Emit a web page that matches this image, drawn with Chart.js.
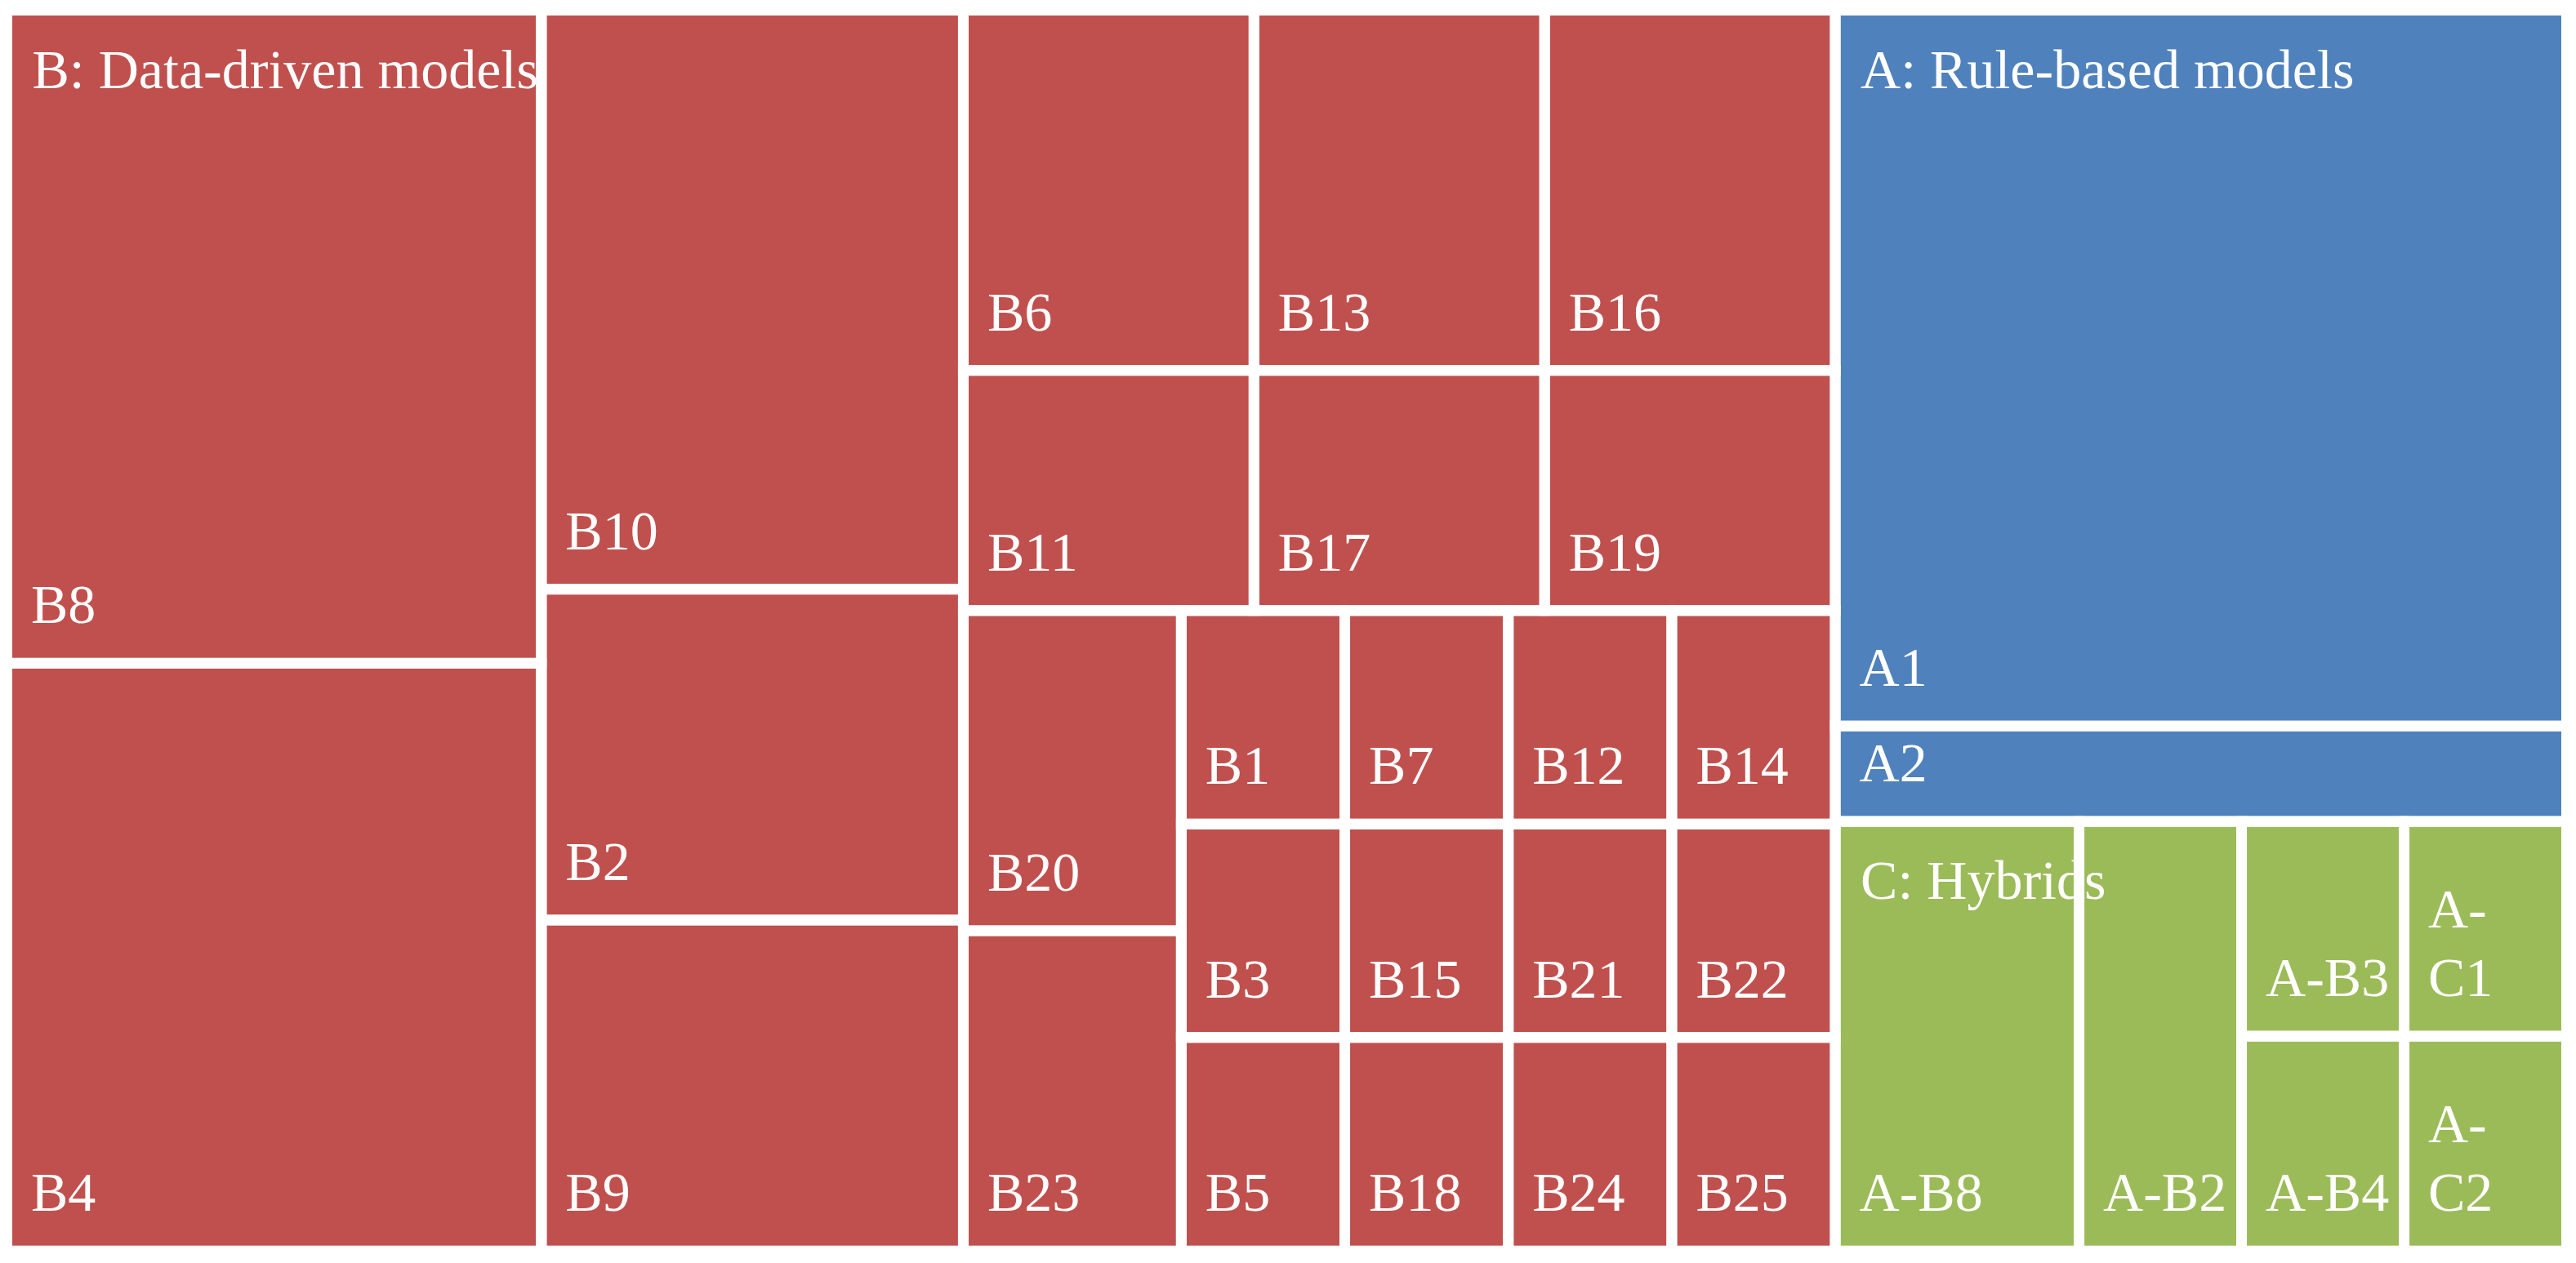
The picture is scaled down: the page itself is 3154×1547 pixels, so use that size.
<!DOCTYPE html>
<html>
<head>
<meta charset="utf-8">
<title>Model treemap</title>
<script src="https://cdn.jsdelivr.net/npm/chart.js@4.4.1/dist/chart.umd.min.js"></script>
<style>
  html, body { margin: 0; padding: 0; background: #fff; }
  canvas { display: block; }
</style>
</head>
<body>
<canvas id="treemapChart" width="3154" height="1547"></canvas>
<script>
// groups (top level of the treemap)
const groupNames = ['A: Rule-based models', 'B: Data-driven models', 'C: Hybrids'];
const groupColors = ['#4F81BD', '#C0504D', '#9BBB59'];

// leaves of each group
const ruleLabels = ['A1', 'A2'];
const ruleValues = [15, 2];

const dataLabels = ['B1', 'B2', 'B3', 'B4', 'B5', 'B6', 'B7', 'B8', 'B9', 'B10',
                    'B11', 'B12', 'B13', 'B14', 'B15', 'B16', 'B17', 'B18', 'B19', 'B20',
                    'B21', 'B22', 'B23', 'B24', 'B25'];
const dataValues = [1, 4, 1, 9, 1, 3, 1, 10, 4, 7,
                    2, 1, 3, 1, 1, 3, 2, 1, 2, 2,
                    1, 1, 2, 1, 1];

const hybridLabels = ['A-B8', 'A-B2', 'A-B3', ['A-', 'C1'], 'A-B4', ['A-', 'C2']];
const hybridValues = [3, 2, 1, 1, 1, 1];

const leafLabels = [...ruleLabels, ...dataLabels, ...hybridLabels];
const leafValues = [...ruleValues, ...dataValues, ...hybridValues];
const leafGroups = [...ruleLabels.map(() => 0), ...dataLabels.map(() => 1), ...hybridLabels.map(() => 2)];

const GAP = 13;
const FONT = '68px "Liberation Serif", "Times New Roman", serif';
const LINE_HEIGHT = 84;

function worstRatio(areas, side) {
    const s = areas.reduce((a, b) => a + b, 0);
    const max = Math.max(...areas), min = Math.min(...areas);
    return Math.max(side * side * max / (s * s), (s * s) / (side * side * min));
}

// squarified layout, rows laid along the shorter side of what is left
function squarify(values, rect) {
    const total = values.reduce((a, b) => a + b, 0);
    const unit = rect.w * rect.h / total;
    const order = values.map((v, i) => i).sort((a, b) => values[b] - values[a] || a - b);
    const out = [];
    let {x, y, w, h} = rect;
    let k = 0;
    while (k < order.length) {
        const side = Math.min(w, h);
        const row = [order[k++]];
        let best = worstRatio(row.map(i => values[i] * unit), side);
        while (k < order.length) {
            const v = values[order[k]];
            if (v * 2 <= values[row[0]]) break; // keep very unequal items apart
            const trial = worstRatio([...row, order[k]].map(i => values[i] * unit), side);
            if (trial > best) break;
            row.push(order[k++]);
            best = trial;
        }
        const rowArea = row.reduce((s, i) => s + values[i] * unit, 0);
        if (w >= h) {
            const t = rowArea / h;
            let yy = y;
            row.forEach(i => {
                const hh = values[i] * unit / t;
                out[i] = {x: x, y: yy, w: t, h: hh};
                yy += hh;
            });
            x += t; w -= t;
        } else {
            const t = rowArea / w;
            let xx = x;
            row.forEach(i => {
                const ww = values[i] * unit / t;
                out[i] = {x: xx, y: y, w: ww, h: t};
                xx += ww;
            });
            y += t; h -= t;
        }
    }
    return out;
}

class CellElement extends Chart.Element {
    static id = 'cell';
    static defaults = {};

    draw(ctx) {
        ctx.fillStyle = this.options.backgroundColor;
        ctx.fillRect(this.x, this.y, this.width, this.height);
    }
    inRange(mx, my) {
        return mx >= this.x && mx <= this.x + this.width && my >= this.y && my <= this.y + this.height;
    }
    getCenterPoint() {
        return {x: this.x + this.width / 2, y: this.y + this.height / 2};
    }
    tooltipPosition() {
        return this.getCenterPoint();
    }
}

class TreemapController extends Chart.DatasetController {
    static id = 'treemap';
    static defaults = { datasetElementType: false, dataElementType: 'cell' };

    update(mode) {
        const meta = this._cachedMeta;
        this.updateElements(meta.data, 0, meta.data.length, mode);
    }

    updateElements(cells, start, count, mode) {
        const ds = this.getDataset();
        const xs = this._cachedMeta.xScale, ys = this._cachedMeta.yScale;
        const W = Math.abs(xs.getPixelForValue(xs.max) - xs.getPixelForValue(xs.min));
        const H = Math.abs(ys.getPixelForValue(ys.max) - ys.getPixelForValue(ys.min));
        if (!(W > 0 && H > 0)) return;
        // layout is done in a box with the pixel aspect, then mapped back to axis values
        const toX = p => xs.min + p / W * (xs.max - xs.min);
        const toY = p => ys.min + p / H * (ys.max - ys.min);
        const toPixels = b => {
            const left = xs.getPixelForValue(toX(b.x));
            const right = xs.getPixelForValue(toX(b.x + b.w));
            const top = ys.getPixelForValue(toY(b.y));
            const bottom = ys.getPixelForValue(toY(b.y + b.h));
            return {x: left, y: top, width: right - left, height: bottom - top};
        };

        const totals = ds.groupNames.map((_, g) =>
            ds.data.reduce((s, v, i) => s + (ds.groups[i] === g ? v : 0), 0));
        const groupBoxes = squarify(totals, {x: 0, y: 0, w: W, h: H});
        const boxes = [];
        groupBoxes.forEach((box, g) => {
            const idx = ds.data.map((v, i) => i).filter(i => ds.groups[i] === g);
            const sub = squarify(idx.map(i => ds.data[i]), box);
            idx.forEach((i, n) => { boxes[i] = sub[n]; });
        });
        this._groupRects = groupBoxes.map(toPixels);

        for (let i = start; i < start + count; i++) {
            Object.assign(cells[i], toPixels(boxes[i]), {
                options: {backgroundColor: ds.groupColors[ds.groups[i]]}
            });
        }
    }

    draw() {
        const ctx = this._ctx;
        const ds = this.getDataset();
        const cells = this._cachedMeta.data;
        cells.forEach(c => c.draw(ctx));

        ctx.save();
        ctx.fillStyle = '#ffffff';
        ctx.font = FONT;
        ctx.textBaseline = 'alphabetic';
        ctx.textAlign = 'left';
        cells.forEach((c, i) => {
            const lines = [].concat(ds.names[i]);
            lines.forEach((line, n) => {
                const y = c.y + c.height - 49 - (lines.length - 1 - n) * LINE_HEIGHT;
                ctx.fillText(line, c.x + 29.5, y);
            });
        });
        (this._groupRects || []).forEach((g, gi) => {
            ctx.fillText(ds.groupNames[gi], g.x + 31, g.y + 95);
        });

        // white separators between the cells
        ctx.strokeStyle = '#ffffff';
        ctx.lineWidth = GAP;
        cells.forEach(c => ctx.strokeRect(c.x, c.y, c.width, c.height));
        ctx.restore();
    }
}

Chart.register(CellElement, TreemapController);

const ctx = document.getElementById('treemapChart').getContext('2d');
new Chart(ctx, {
    type: 'treemap',
    data: {
        datasets: [{
            data: leafValues,
            names: leafLabels,
            groups: leafGroups,
            groupNames: groupNames,
            groupColors: groupColors
        }]
    },
    options: {
        responsive: false,
        devicePixelRatio: 1,
        animation: false,
        events: [],
        layout: { padding: { left: 8.5, top: 12.5, right: 11.5, bottom: 14.8 } },
        scales: {
            x: { type: 'linear', min: 0, max: 100, display: false },
            y: { type: 'linear', min: 0, max: 100, reverse: true, display: false }
        },
        plugins: {
            legend: { display: false },
            tooltip: { enabled: false }
        }
    }
});
</script>
</body>
</html>
